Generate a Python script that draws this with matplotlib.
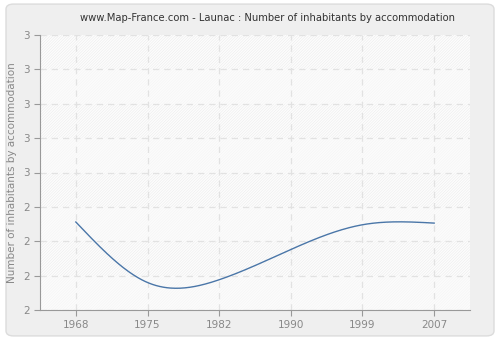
import numpy as np
import matplotlib.pyplot as plt
from matplotlib.patches import FancyBboxPatch
from matplotlib.ticker import FuncFormatter

years = ["1968", "1975", "1982", "1990", "1999", "2007"]
values = [2.32, 2.10, 2.11, 2.22, 2.31, 2.316]

y_min, y_max, y_step = 2.0, 3.0, 0.125


def natural_spline(x, y, n=300):
    # natural cubic spline through the points, used only to draw the smooth line
    x = np.asarray(x, float)
    y = np.asarray(y, float)
    k = len(x)
    h = np.diff(x)
    A = np.zeros((k, k))
    b = np.zeros(k)
    A[0, 0] = A[-1, -1] = 1
    for i in range(1, k - 1):
        A[i, i - 1] = h[i - 1]
        A[i, i] = 2 * (h[i - 1] + h[i])
        A[i, i + 1] = h[i]
        b[i] = 3 * ((y[i + 1] - y[i]) / h[i] - (y[i] - y[i - 1]) / h[i - 1])
    c = np.linalg.solve(A, b)
    xs = np.linspace(x[0], x[-1], n)
    ys = np.empty_like(xs)
    for j, xv in enumerate(xs):
        i = min(np.searchsorted(x, xv, side="right") - 1, k - 2)
        d = xv - x[i]
        bi = (y[i + 1] - y[i]) / h[i] - h[i] * (2 * c[i] + c[i + 1]) / 3
        di = (c[i + 1] - c[i]) / (3 * h[i])
        ys[j] = y[i] + bi * d + c[i] * d ** 2 + di * d ** 3
    return xs, ys


plt.rcParams['hatch.linewidth'] = 0.4
plt.rcParams['hatch.color'] = '#ebebeb'

fig = plt.figure(figsize=(5, 3.4), dpi=100)
fig.patch.set_facecolor('white')
bg = FancyBboxPatch((0.012, 0.012), 0.976, 0.976, boxstyle="round,pad=0,rounding_size=0.015",
                    transform=fig.transFigure, facecolor='#efefef', edgecolor='#dcdcdc',
                    lw=1, zorder=-10)
fig.patches.append(bg)

ax = fig.add_axes([40 / 500, 30 / 340, 430 / 500, 275 / 340], zorder=1)
ax.set_facecolor('#fdfdfd')

# hatched plot area, every other band washed out
levels = np.arange(y_min, y_max + 1e-9, y_step)
ax.axhspan(y_min, y_max, facecolor='#fdfdfd', edgecolor='#ebebeb',
           hatch='/' * 12, lw=0, zorder=0.1)
for i in range(len(levels) - 1):
    if i % 2 == 0:
        ax.axhspan(levels[i], levels[i + 1], facecolor='#fbfbfb', alpha=0.6, lw=0, zorder=0.2)

xi = np.arange(len(years))
xs, ys = natural_spline(xi, values)
ax.plot(xs, ys, color='#4a76a8', lw=1, zorder=3)

ax.set_xlim(-0.5, len(years) - 0.5)
ax.set_ylim(y_min, y_max)
ax.set_xticks(xi)
ax.set_xticklabels(years)
ax.set_yticks(levels)
ax.yaxis.set_major_formatter(FuncFormatter(lambda v, p: str(int(v + 0.5))))

ax.grid(True, color='#e2e2e2', linestyle=(0, (5, 4)), lw=0.9)
ax.set_axisbelow(True)
for s in ['top', 'right']:
    ax.spines[s].set_visible(False)
for s in ['left', 'bottom']:
    ax.spines[s].set_color('#999999')
ax.tick_params(colors='#999999', labelcolor='#888888', labelsize=7.5, length=4)

ax.set_ylabel("Number of inhabitants by accommodation", color='#888888', fontsize=7.5)
fig.text(267 / 500, 1 - 18 / 340, "www.Map-France.com - Launac : Number of inhabitants by accommodation",
         ha='center', va='center', fontsize=7.2, color='#333333')

fig.savefig("out.png", dpi=100, facecolor=fig.get_facecolor())
